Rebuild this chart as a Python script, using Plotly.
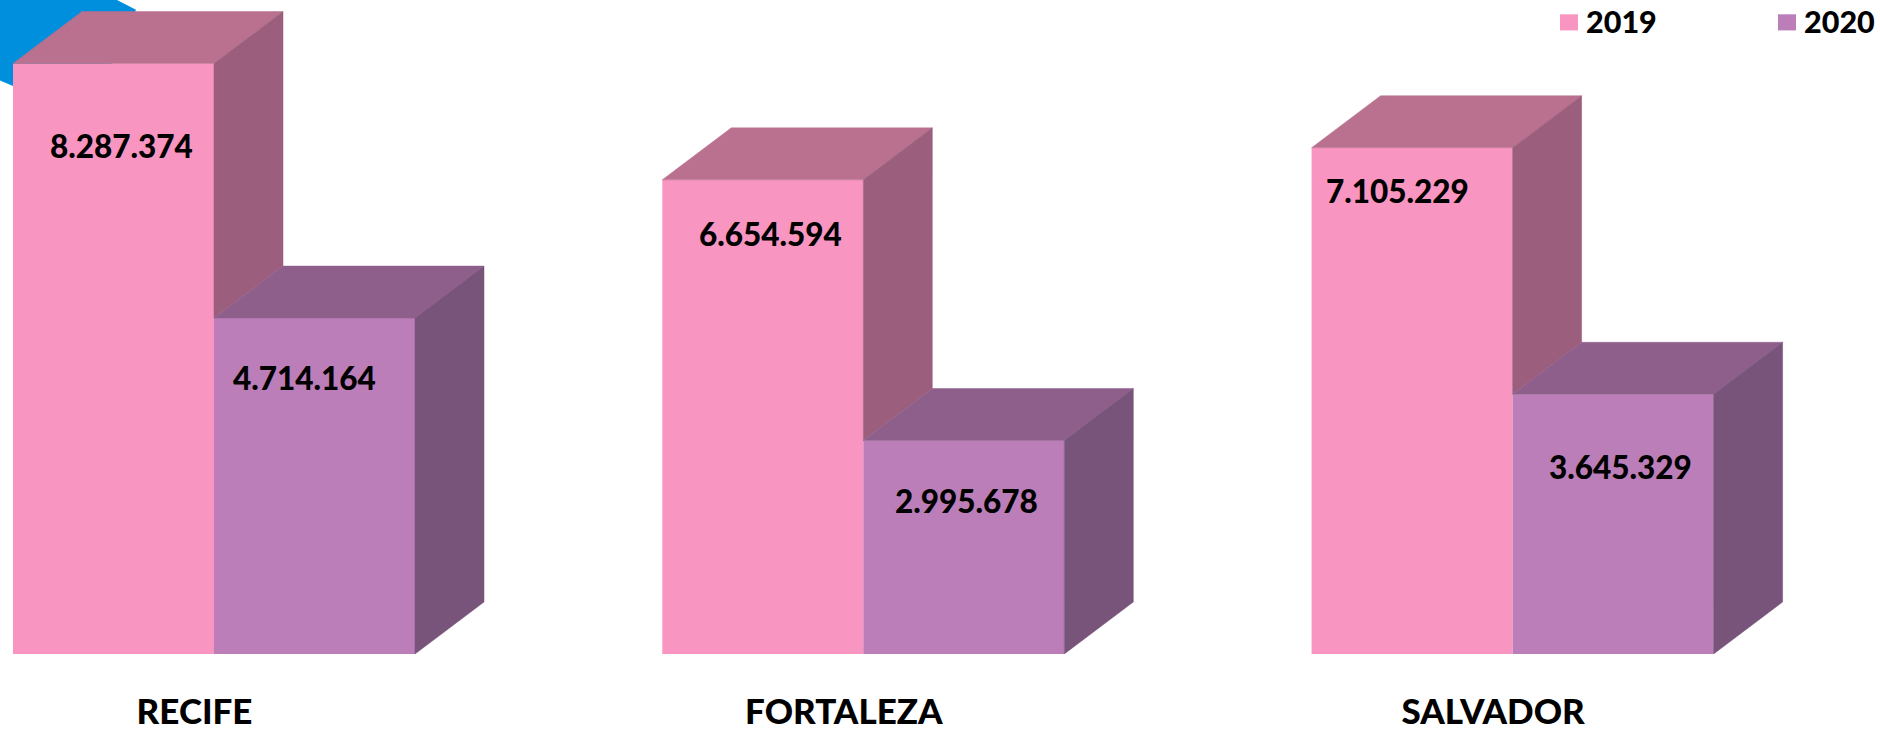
import plotly.graph_objects as go

# ---- data ----
cities = ["RECIFE", "FORTALEZA", "SALVADOR"]
years = ["2019", "2020"]
values_2019 = [8287374, 6654594, 7105229]
values_2020 = [4714164, 2995678, 3645329]

# ---- styles ----
W, H = 1880, 731
FONT = "Lato"
front = ["#F995C1", "#BC7EB9"]
top_face = ["#BA708F", "#8F5F8C"]
side_face = ["#9C5E7D", "#78537A"]
BLUE = "#008FDC"

# scales: pixels per group and per value unit
PITCH = 649.3
Y_SCALE = 7.125e-5
X0 = 214.0
BASE = 654
BAR_W = 201.0
DEPTH_X = 69 / PITCH
DEPTH_Y = 52 / Y_SCALE
w = BAR_W / PITCH
# pixel shifts of the value labels, relative to bar centre / top
shift_2019 = [(7.5, -82), (7.5, -54), (-14.5, -43)]
shift_2020 = [(-10, -60), (2.5, -60), (7.5, -73)]

fig = go.Figure()
xs = list(range(len(cities)))

# flat front faces
for name, vals, col in zip(years, [values_2019, values_2020], front):
    fig.add_trace(go.Bar(name=name, x=xs, y=vals, marker=dict(color=col, line=dict(width=0)),
                         width=w, offset=(-w if name == "2019" else 0),
                         customdata=cities, hovertemplate="%{customdata} " + name + ": %{y}<extra></extra>",
                         showlegend=False))


def face(px, py, col):
    fig.add_trace(go.Scatter(x=px + px[:1], y=py + py[:1], mode="lines", fill="toself",
                             fillcolor=col, line=dict(color=col, width=0.5),
                             hoverinfo="skip", showlegend=False))


# 3D top and side faces, derived from values
for i in xs:
    a, b = values_2019[i], values_2020[i]
    # 2019 top + side (side stops where the 2020 bar's top begins)
    face([i - w, i, i + DEPTH_X, i - w + DEPTH_X], [a, a, a + DEPTH_Y, a + DEPTH_Y], top_face[0])
    face([i, i + DEPTH_X, i + DEPTH_X, i], [a, a + DEPTH_Y, b + DEPTH_Y, b], side_face[0])
    # 2020 top + side
    face([i, i + w, i + w + DEPTH_X, i + DEPTH_X], [b, b, b + DEPTH_Y, b + DEPTH_Y], top_face[1])
    face([i + w, i + w + DEPTH_X, i + w + DEPTH_X, i + w], [b, b + DEPTH_Y, DEPTH_Y, 0], side_face[1])

annotations = []
for i in xs:
    for vals, shifts, cx in ((values_2019, shift_2019, i - w / 2), (values_2020, shift_2020, i + w / 2)):
        annotations.append(dict(x=cx, y=vals[i], xref="x", yref="y", text=f"{vals[i]:,}".replace(",", "."),
                                showarrow=False, xshift=shifts[i][0], yshift=shifts[i][1],
                                font=dict(family=FONT, size=31.5, color="black", weight=900),
                                xanchor="center", yanchor="middle"))

# legend (swatch + label)
legend_x = [1560, 1778]
shapes = [dict(type="path", xref="paper", yref="paper", layer="below", line=dict(width=0), fillcolor=BLUE,
               path="M 0 1 L {:.5f} 1 L {:.5f} {:.5f} L {:.5f} {:.5f} L {:.5f} {:.5f} L 0 {:.5f} Z".format(
                   117 / W, 136 / W, 1 - 11 / H, 100 / W, 1 - 100 / H, 13 / W, 1 - 96 / H, 1 - 90 / H))]
for lx, col, yr in zip(legend_x, front, years):
    shapes.append(dict(type="rect", xref="paper", yref="paper", x0=lx / W, x1=(lx + 18) / W,
                       y0=1 - 34 / H, y1=1 - 16 / H, fillcolor=col, line=dict(width=0)))
    annotations.append(dict(x=(lx + 24) / W, y=1 - 24 / H, xref="paper", yref="paper", text=yr,
                            showarrow=False, xanchor="left", yanchor="middle",
                            font=dict(family=FONT, size=30.5, color="black", weight=900)))

fig.update_layout(
    width=W, height=H, autosize=False,
    margin=dict(l=0, r=0, t=0, b=H - BASE, pad=0, autoexpand=False),
    paper_bgcolor="white", plot_bgcolor="rgba(0,0,0,0)",
    barmode="overlay", showlegend=False, shapes=shapes, annotations=annotations,
    xaxis=dict(range=[-X0 / PITCH, (W - X0) / PITCH], tickvals=[i - 0.03 for i in xs], ticktext=cities,
               automargin=False,
               showgrid=False, zeroline=False, showline=False, ticks="outside", ticklen=27, tickcolor="rgba(0,0,0,0)",
               tickfont=dict(family=FONT, size=35, color="black", weight=900)),
    yaxis=dict(range=[0, BASE / Y_SCALE], visible=False),
)
fig.write_html("out.html", config=dict(displayModeBar=False),
               post_script="document.body.style.margin='0';document.documentElement.style.overflow='hidden';")
